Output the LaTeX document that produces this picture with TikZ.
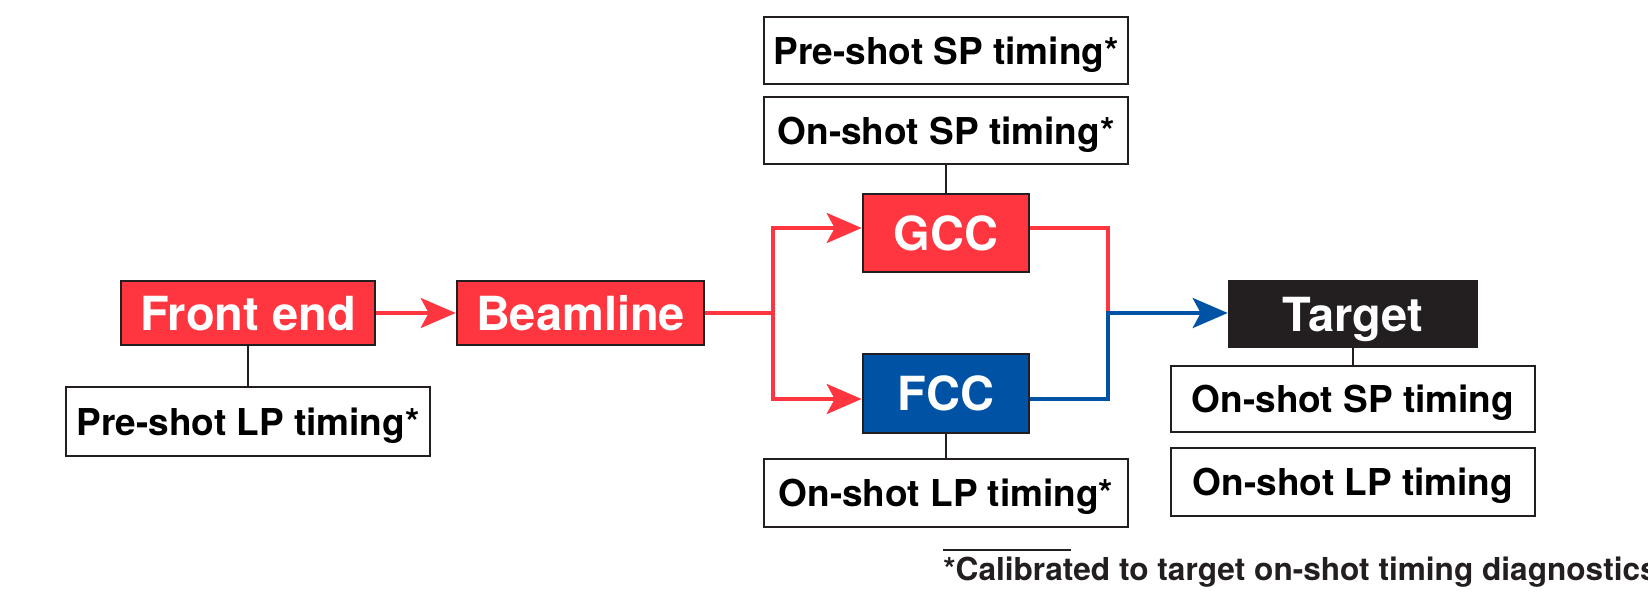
\documentclass[tikz,border=0pt]{standalone}
\usepackage{fontspec}
\setmainfont{TeX Gyre Heros}
\usetikzlibrary{arrows.meta}
\definecolor{lred}{RGB}{255,54,64}
\definecolor{lblue}{RGB}{0,82,164}
\definecolor{ink}{RGB}{35,31,32}
\tikzset{
  bigbox/.style={draw=ink, line width=1.3pt, text=white, font=\fontsize{23.5}{28}\selectfont\bfseries, inner sep=0pt, text depth=0pt},
  timebox/.style={draw=ink, line width=1.1pt, fill=white, text=black, font=\fontsize{18.5}{22}\selectfont\bfseries, inner sep=0pt, minimum width=182pt, text depth=0pt},
  redline/.style={draw=lred, line width=2pt},
  blueline/.style={draw=lblue, line width=2pt},
  redarrow/.style={redline, -{Stealth[length=17.5pt,width=15pt,inset=4pt]}},
  bluearrow/.style={blueline, -{Stealth[length=17.5pt,width=15pt,inset=4pt]}},
  tie/.style={draw=ink, line width=1pt},
}
\begin{document}
\begin{tikzpicture}[x=0.5pt,y=-0.5pt]
\clip (0,0) rectangle (1648,594);
% main boxes
\node[bigbox, fill=lred, minimum width=127pt, minimum height=32pt] (front) at (248,313) {Front end};
\node[bigbox, fill=lred, minimum width=123.5pt, minimum height=32pt] (beam) at (580.5,313) {Beamline};
\node[bigbox, fill=lred, minimum width=83pt, minimum height=39pt] (gcc) at (946,233) {GCC};
\node[bigbox, fill=lblue, minimum width=83pt, minimum height=39.5pt] (fcc) at (946,393.5) {FCC};
\node[bigbox, fill=ink, minimum width=124pt, minimum height=33pt] (target) at (1353,314) {Target};
% timing boxes
\node[timebox, minimum height=34.5pt] (prelp) at (248,421.5) {Pre-shot LP timing*};
\node[timebox, minimum height=33.5pt] (presp) at (946,50.5) {Pre-shot SP timing*};
\node[timebox, minimum height=33.5pt] (onspstar) at (946,130.5) {On-shot SP timing*};
\node[timebox, minimum height=34pt] (onlpstar) at (946,493) {On-shot LP timing*};
\node[timebox, minimum height=33pt] (onsp) at (1353,399) {On-shot SP timing};
\node[timebox, minimum height=34pt] (onlp) at (1353,482) {On-shot LP timing};
% junction points
\coordinate (split) at (773,313);
\coordinate (gin) at (773,228);
\coordinate (fin) at (773,399);
\coordinate (gout) at (1108,228);
\coordinate (fout) at (1108,399);
\coordinate (merge) at (1108,313);
% connectors
\draw[redarrow] (front) -- (beam);
\draw[redline] (beam.east) -- (split);
\draw[redarrow] (split) |- (gin -| gcc.west);
\draw[redarrow] (split) |- (fin -| fcc.west);
\draw[redline] (gout -| gcc.east) -| (merge);
\draw[bluearrow] (fout -| fcc.east) -| (merge) -- (merge -| target.west);
% ties
\draw[tie] (front.south) -- (prelp.north);
\draw[tie] (onspstar.south) -- (gcc.north);
\draw[tie] (fcc.south) -- (onlpstar.north);
\draw[tie] (target.south) -- (onsp.north);
% footnote
\coordinate (fnl) at (943,550);
\coordinate (fnr) at (1071,550);
\draw[draw=ink, line width=1pt] (fnl) -- (fnr);
\node[anchor=base west, inner sep=0pt, text=ink, font=\fontsize{15.8}{18}\selectfont\bfseries] (fn) at (943,580) {*Calibrated to target on-shot timing diagnostics};
\end{tikzpicture}
\end{document}
